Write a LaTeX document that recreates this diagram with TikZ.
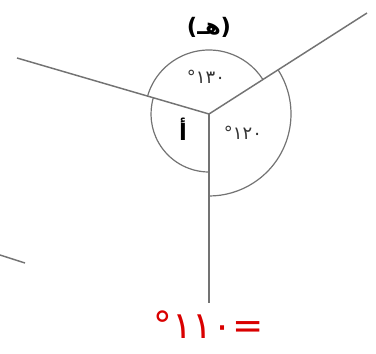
\documentclass[tikz,border=0pt]{standalone}
\usepackage{fontspec}
\newfontfamily\arabicfont[Script=Arabic]{DejaVu Sans}
\newfontfamily\plainfont{DejaVu Sans}
\TeXXeTstate=1
\tikzset{
  rayline/.style={line width=1.1pt,black!55},
  angarc/.style={line width=0.9pt,black!55},
  anglab/.style={font=\arabicfont\fontsize{13.5}{16}\selectfont,text=black!80,inner sep=1pt},
  answer/.style={font=\arabicfont\fontsize{28}{30}\selectfont,text=red!85!black,inner sep=1pt},
}
\begin{document}
\begin{tikzpicture}[x=0.75pt,y=-0.75pt]
\useasboundingbox (0,0) rectangle (376,354);
% ---- the three rays from the vertex
\coordinate (O) at (209,114);
\coordinate (L) at (17,58);
\coordinate (R) at (367,13);
\coordinate (D) at (209,303);
\draw[rayline] (L) -- (O) -- (R);
\draw[rayline] (O) -- (D);
% stray stroke, lower left
\coordinate (s1) at (0,255);
\coordinate (s2) at (25,263);
\draw[rayline] (s1) -- (s2);
% ---- angle marks
\draw[angarc] (O) ++(196.5:64) arc[start angle=196.5,end angle=327.2,radius=64];
\draw[angarc] (O) ++(90:58) arc[start angle=90,end angle=196.5,radius=58];
\draw[angarc] (O) ++(-32.8:82) arc[start angle=-32.8,end angle=90,radius=82];
% ---- labels
\node[font=\plainfont\bfseries\fontsize{17}{20}\selectfont,inner sep=1pt] (title) at (209,27)
  {({\arabicfont\beginR هـ\endR})};
\node[anglab] (top) at (206,77) {١٣٠°};
\node[anglab] (right) at (243,133) {١٢٠°};
\node[anglab,font=\arabicfont\bfseries\fontsize{17}{18}\selectfont,text=black] (alef) at (183,129) {\beginR أ\endR};
\node[answer] (result) at (209,325) {=١١٠°};
\end{tikzpicture}
\end{document}
